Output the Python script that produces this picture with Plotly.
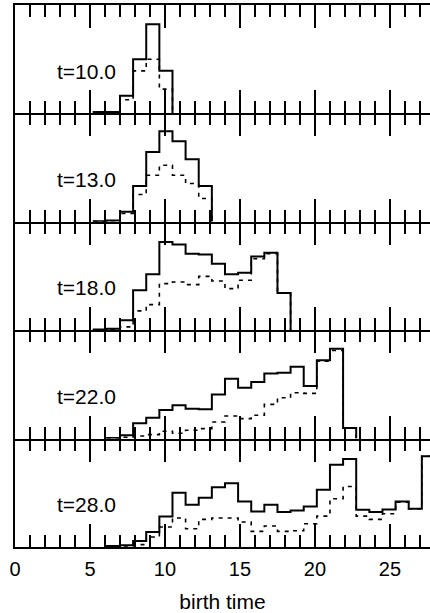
import plotly.graph_objects as go
from plotly.subplots import make_subplots

# Histogram bins are 0.875 wide, starting at birth time 0
BIN_WIDTH = 0.875

panel_labels = ["t=10.0", "t=13.0", "t=18.0", "t=22.0", "t=28.0"]

# index of the first bin listed for each panel
first_bin = [6, 6, 6, 7, 7]

# solid histograms (one list per panel)
solid_t10 = [4, 4, 53, 163, 268, 128]
solid_t13 = [2, 4, 30, 108, 210, 272, 242, 188, 108]
solid_t18 = [2, 4, 30, 120, 168, 265, 258, 230, 228, 200, 168, 173, 222, 233, 112]
solid_t22 = [2, 10, 46, 63, 86, 100, 90, 88, 133, 180, 153, 170, 196, 198, 216,
             158, 236, 270, 32]
solid_t28 = [3, 5, 18, 45, 92, 163, 127, 148, 180, 192, 137, 107, 127, 105, 110,
             122, 172, 247, 265, 112, 105, 113, 137, 115, 273]

# dotted histograms
dotted_t10 = [3, 3, 41, 128, 163, 73]
dotted_t13 = [1, 3, 25, 82, 140, 170, 140, 115, 70]
dotted_t18 = [1, 3, 10, 58, 77, 140, 145, 137, 162, 148, 125, 150, 215, 230, 112]
dotted_t22 = [1, 4, 8, 12, 22, 16, 25, 30, 50, 68, 60, 70, 103, 123, 138,
              136, 233, 265, 32]
dotted_t28 = [1, 3, 7, 30, 60, 87, 55, 83, 87, 87, 75, 47, 63, 47, 49,
              70, 93, 145, 182, 93, 83, 100, 135, 115, 273]

solid = [solid_t10, solid_t13, solid_t18, solid_t22, solid_t28]
dotted = [dotted_t10, dotted_t13, dotted_t18, dotted_t22, dotted_t28]

X_MAX = 27.67
Y_MAX = 326
FONT = "Liberation Sans, Arial, Helvetica, sans-serif"


def step_xy(start, values):
    """Edges and heights for an 'hv' step outline that closes on the baseline."""
    edges = [(start + i) * BIN_WIDTH for i in range(len(values) + 1)]
    xs = [edges[0]] + edges
    ys = [0] + list(values) + [0]
    return xs, ys


def tick_style(**extra):
    style = dict(range=[0, X_MAX], ticks="inside", ticklen=23, tickwidth=2,
                 tickcolor="black", tick0=0, dtick=5, showgrid=False, zeroline=False,
                 linecolor="black", linewidth=2,
                 minor=dict(ticks="inside", ticklen=12, tickwidth=2, tickcolor="black",
                            tick0=0, dtick=1, showgrid=False))
    style.update(extra)
    return style


n = len(panel_labels)
fig = make_subplots(rows=n, cols=1, vertical_spacing=0)

for i in range(n):
    row = i + 1
    main_x = "x" if row == 1 else f"x{row}"
    main_y = "y" if row == 1 else f"y{row}"
    top_id = n + row
    top_x = f"x{top_id}"

    # top axis of the panel (ticks point down into the panel); same range as bottom
    fig.layout[f"xaxis{top_id}"] = tick_style(overlaying=main_x, anchor=main_y,
                                              side="top", showline=(row == 1),
                                              showticklabels=False)

    # dotted histogram, drawn against the panel's top axis
    xs, ys = step_xy(first_bin[i], dotted[i])
    fig.add_trace(go.Scatter(x=xs, y=ys, xaxis=top_x, yaxis=main_y, mode="lines",
                             line_shape="hv",
                             line=dict(color="black", width=1.6, dash="4px,5px"),
                             showlegend=False, hoverinfo="skip"))
    # solid histogram, drawn against the bottom axis
    xs, ys = step_xy(first_bin[i], solid[i])
    fig.add_trace(go.Scatter(x=xs, y=ys, mode="lines", line_shape="hv",
                             line=dict(color="black", width=2),
                             showlegend=False, hoverinfo="skip"), row=row, col=1)

    # bottom axis of the panel: ticks point up into the panel
    fig.update_xaxes(**tick_style(showline=True, mirror=False,
                                  showticklabels=(row == n), ticklabelstandoff=3,
                                  tickfont=dict(family=FONT, size=20, color="black")),
                     row=row, col=1)
    fig.update_yaxes(range=[0, Y_MAX], showline=True, linewidth=2, linecolor="black",
                     mirror=False, ticks="", showticklabels=False, showgrid=False,
                     zeroline=False, row=row, col=1)

    fig.add_annotation(x=2.67, y=0.39, xref=main_x, yref=f"{main_y} domain",
                       text=panel_labels[i], showarrow=False, xanchor="left",
                       yanchor="middle",
                       font=dict(family=FONT, size=21, color="black"))

fig.update_xaxes(title=dict(text="birth time", standoff=15,
                            font=dict(family=FONT, size=21, color="black")),
                 row=n, col=1)

fig.update_layout(width=430, height=613, margin=dict(l=15, r=0, t=5, b=66),
                  paper_bgcolor="white", plot_bgcolor="white")

fig.write_html("out.html")
